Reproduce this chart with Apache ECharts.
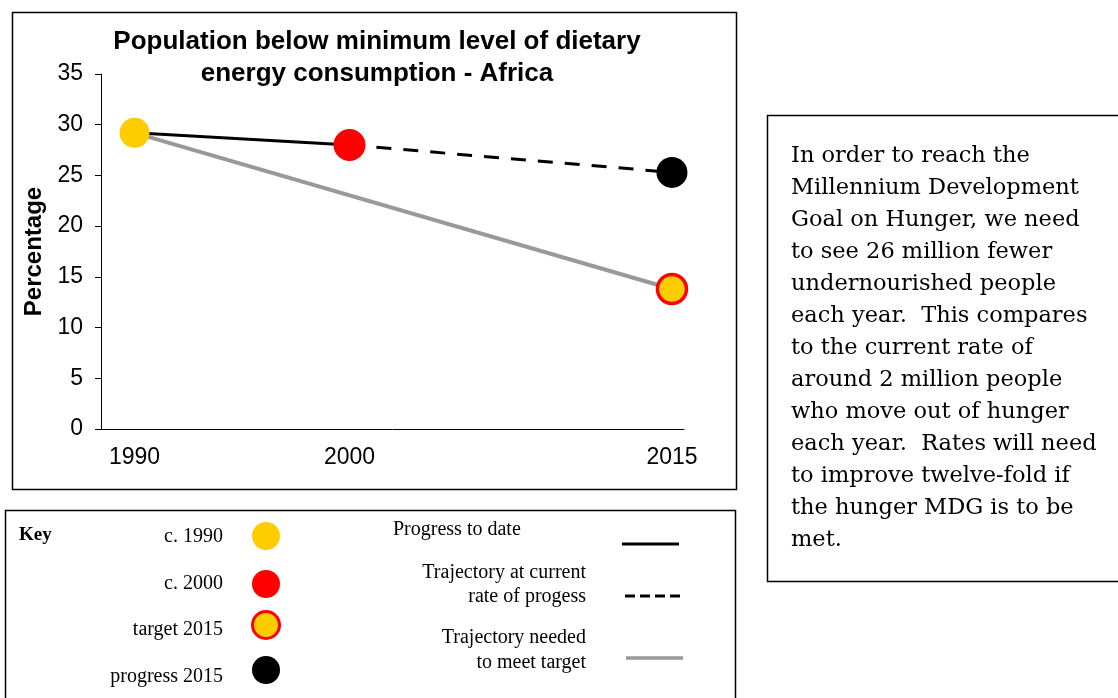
<!DOCTYPE html>
<html>
<head>
<meta charset="utf-8">
<script src="https://cdn.jsdelivr.net/npm/echarts@6/dist/echarts.min.js"></script>
<style>
html,body{margin:0;padding:0;background:#fff;}
#chart{width:1118px;height:698px;}
</style>
</head>
<body>
<div id="chart"></div>
<script>
// ---- Data ----
const years = [1990, 2000, 2015];
const yearLabels = ['1990', '2000', '2015'];
const observed = [29.2, 28.0];          // c. 1990, c. 2000
const progress2015 = 25.3;              // trajectory at current rate
const target2015 = 13.8;                // target 2015
const yTicks = [0, 5, 10, 15, 20, 25, 30, 35];

const titleLines = ['Population below minimum level of dietary', 'energy consumption - Africa'];
const noteLines = [
  'In order to reach the',
  'Millennium Development',
  'Goal on Hunger, we need',
  'to see 26 million fewer',
  'undernourished people',
  'each year.  This compares',
  'to the current rate of',
  'around 2 million people',
  'who move out of hunger',
  'each year.  Rates will need',
  'to improve twelve-fold if',
  'the hunger MDG is to be',
  'met.'
];
const keyPoints = ['c. 1990', 'c. 2000', 'target 2015', 'progress 2015'];
const keyLines = [['Progress to date'], ['Trajectory at current', 'rate of progess'], ['Trajectory needed', 'to meet target']];

// ---- Colours ----
const YELLOW = '#FFCC00', RED = '#FF0000', GREY = '#999999', BLACK = '#000000';

const chart = echarts.init(document.getElementById('chart'), null, {renderer: 'canvas'});

const sans = 'Liberation Sans, Arial, sans-serif';
const serif = 'Liberation Serif, Times New Roman, serif';

const graphics = [
  // chart frame
  {type: 'rect', shape: {x: 12.5, y: 12.5, width: 724, height: 477}, style: {fill: 'none', stroke: '#000', lineWidth: 1.5}, z: 0},
  // key frame
  {type: 'rect', shape: {x: 5.5, y: 510.5, width: 730, height: 200}, style: {fill: 'none', stroke: '#000', lineWidth: 1.5}},
  // note frame
  {type: 'rect', shape: {x: 767.5, y: 115.5, width: 400, height: 466}, style: {fill: 'none', stroke: '#000', lineWidth: 1.5}},
  // title
  {type: 'text', x: 377, y: 26, style: {text: titleLines.join('\n'), align: 'center', verticalAlign: 'top', fontFamily: sans, fontWeight: 'bold', fontSize: 26, lineHeight: 32, fill: '#000'}},
  // note text
  {type: 'text', x: 791, y: 140, style: {text: noteLines.join('\n'), align: 'left', verticalAlign: 'top', fontFamily: 'DejaVu Serif, serif', fontSize: 22.5, lineHeight: 32, fill: '#000'}},
  // key label
  {type: 'text', x: 19, y: 535, style: {text: 'Key', align: 'left', verticalAlign: 'middle', fontFamily: serif, fontWeight: 'bold', fontSize: 19, fill: '#000'}}
];

const keyPointY = [537, 584, 630, 677];
const keyCircleY = [536, 584, 625, 670];
const keyStyles = [
  {fill: YELLOW},
  {fill: RED},
  {fill: YELLOW, stroke: RED, lineWidth: 3},
  {fill: BLACK}
];
keyPoints.forEach((t, i) => {
  graphics.push({type: 'text', x: 223, y: keyPointY[i], style: {text: t, align: 'right', verticalAlign: 'middle', fontFamily: serif, fontSize: 20, fill: '#000'}});
  graphics.push({type: 'circle', shape: {cx: 266, cy: keyCircleY[i], r: i === 2 ? 13.5 : 14}, style: keyStyles[i]});
});
// key line entries
graphics.push({type: 'text', x: 393, y: 530, style: {text: keyLines[0].join('\n'), align: 'left', verticalAlign: 'middle', fontFamily: serif, fontSize: 20, fill: '#000'}});
graphics.push({type: 'text', x: 586, y: 585, style: {text: keyLines[1].join('\n'), align: 'right', verticalAlign: 'middle', fontFamily: serif, fontSize: 20, lineHeight: 24, fill: '#000'}});
graphics.push({type: 'text', x: 586, y: 650, style: {text: keyLines[2].join('\n'), align: 'right', verticalAlign: 'middle', fontFamily: serif, fontSize: 20, lineHeight: 25, fill: '#000'}});
graphics.push({type: 'line', shape: {x1: 622, y1: 544, x2: 679, y2: 544}, style: {stroke: BLACK, lineWidth: 3}});
graphics.push({type: 'line', shape: {x1: 625, y1: 596, x2: 683, y2: 596}, style: {stroke: BLACK, lineWidth: 3, lineDash: [10, 5]}});
graphics.push({type: 'line', shape: {x1: 626, y1: 658, x2: 683, y2: 658}, style: {stroke: GREY, lineWidth: 3.5}});

const option = {
  animation: false,
  backgroundColor: '#fff',
  grid: {left: 101, right: 434, top: 74, bottom: 269, containLabel: false},
  xAxis: {
    type: 'value',
    min: 1988.44,
    max: 2015.56,
    splitLine: {show: false},
    axisLine: {show: true, lineStyle: {color: '#000', width: 1}},
    axisTick: {show: false},
    axisLabel: {
      customValues: years,
      formatter: v => yearLabels[years.indexOf(v)] || '',
      margin: 17,
      color: '#000',
      fontFamily: sans,
      fontSize: 23
    }
  },
  yAxis: {
    type: 'value',
    min: 0,
    max: 35,
    interval: 5,
    name: 'Percentage',
    nameLocation: 'middle',
    nameRotate: 90,
    nameGap: 53,
    nameTextStyle: {color: '#000', fontFamily: sans, fontWeight: 'bold', fontSize: 24},
    splitLine: {show: false},
    axisLine: {show: true, lineStyle: {color: '#000', width: 1}},
    axisTick: {show: true, inside: false, length: 6, lineStyle: {color: '#000'}},
    axisLabel: {color: '#000', fontFamily: sans, fontSize: 23, margin: 18}
  },
  graphic: graphics,
  series: [
    {
      name: 'Trajectory needed to meet target',
      type: 'line',
      data: [[years[0], observed[0]], [years[2], target2015]],
      symbol: 'none',
      lineStyle: {color: GREY, width: 4},
      z: 2
    },
    {
      name: 'Progress to date',
      type: 'line',
      data: [[years[0], observed[0]], [years[1], observed[1]]],
      symbol: 'none',
      lineStyle: {color: BLACK, width: 3},
      z: 3
    },
    {
      name: 'Trajectory at current rate of progess',
      type: 'line',
      data: [[years[1], observed[1]], [years[2], progress2015]],
      symbol: 'none',
      lineStyle: {color: BLACK, width: 3, type: [15, 12]},
      z: 3
    },
    {
      name: 'points',
      type: 'scatter',
      symbol: 'circle',
      z: 5,
      itemStyle: {opacity: 1},
      data: [
        {value: [years[0], observed[0]], symbolSize: 30, itemStyle: {color: YELLOW, opacity: 1}},
        {value: [years[1], observed[1]], symbolSize: 32, itemStyle: {color: RED, opacity: 1}},
        {value: [years[2], progress2015], symbolSize: 31, itemStyle: {color: BLACK, opacity: 1}},
        {value: [years[2], target2015], symbolSize: 29, itemStyle: {color: YELLOW, borderColor: RED, borderWidth: 3.5, opacity: 1}}
      ]
    }
  ]
};
chart.setOption(option);
</script>
</body>
</html>
